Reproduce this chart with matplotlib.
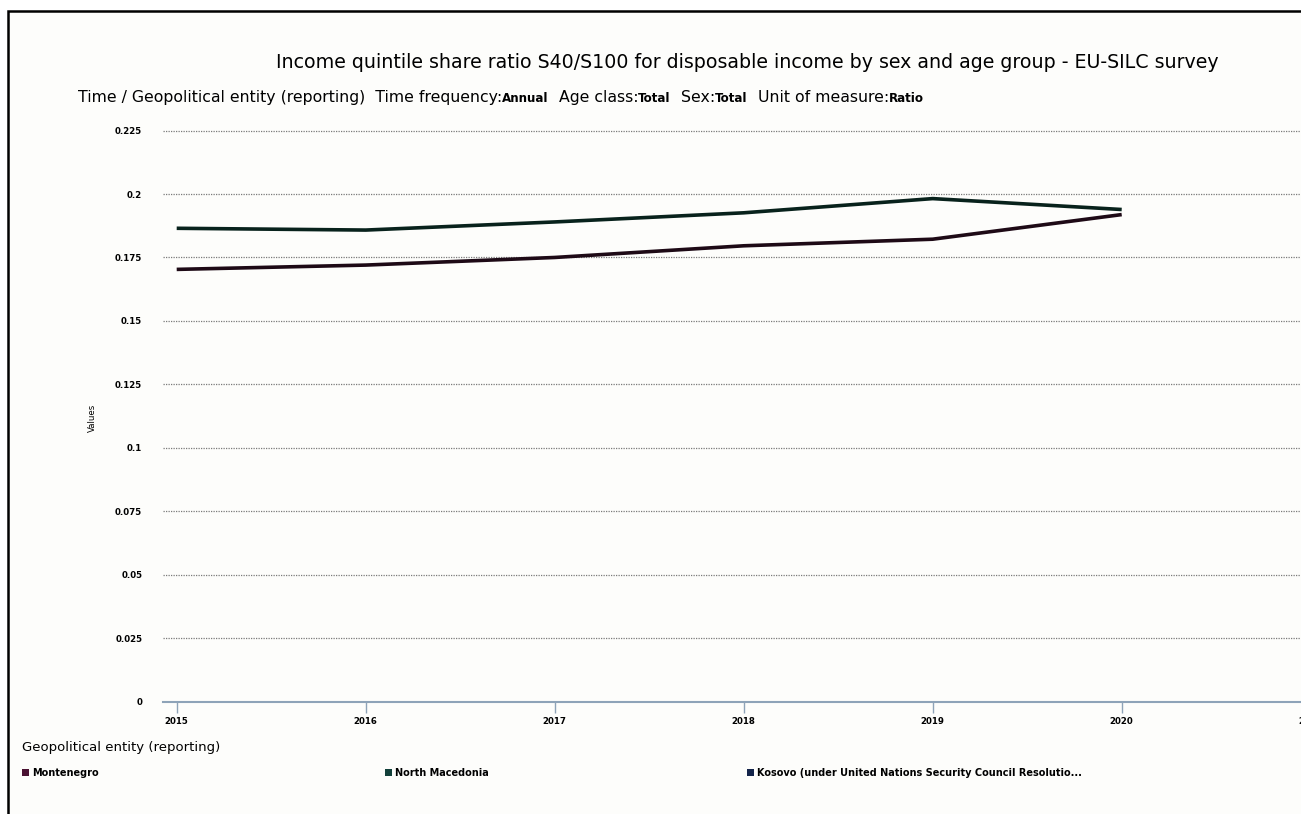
import matplotlib
matplotlib.use("Agg")
import matplotlib.pyplot as plt
from matplotlib.patches import Rectangle

plt.rcParams['font.family'] = ['DejaVu Sans']

years = [2015, 2016, 2017, 2018, 2019, 2020]
montenegro = [0.1703, 0.1720, 0.1750, 0.1796, 0.1822, 0.1919]
north_macedonia = [0.1865, 0.1858, 0.1890, 0.1926, 0.1982, 0.1939]
x_ticks = [2015, 2016, 2017, 2018, 2019, 2020, 2021]
y_ticks = [0, 0.025, 0.05, 0.075, 0.1, 0.125, 0.15, 0.175, 0.2, 0.225]
y_tick_labels = ['0', '0.025', '0.05', '0.075', '0.1', '0.125', '0.15', '0.175', '0.2', '0.225']
legend_names = ['Montenegro', 'North Macedonia',
                'Kosovo (under United Nations Security Council Resolutio...']
legend_colors = ['#4a1232', '#12403a', '#14244a']
line_colors = ['#1e0a16', '#08221c']

W, H = 1301, 814
fig = plt.figure(figsize=(W / 100, H / 100), dpi=100)
fig.patch.set_facecolor('white')

# outer frame
fig.add_artist(Rectangle((8 / W, -0.1), 1.2, (H - 11) / H + 0.1, transform=fig.transFigure,
                         facecolor='#fdfdfb', edgecolor='black', linewidth=1.8, zorder=-5))

left, right = 163, 1400
bottom, top = 701.5, 130.6
ax = fig.add_axes([left / W, 1 - bottom / H, (right - left) / W, (bottom - top) / H])
ax.set_facecolor('none')

ax.plot(years, montenegro, color=line_colors[0], lw=2.6, solid_capstyle='butt', zorder=3)
ax.plot(years, north_macedonia, color=line_colors[1], lw=2.6, solid_capstyle='butt', zorder=3)

x0 = 2015 - (176.7 - left) / 189.0
x1 = 2015 + (right - 176.7) / 189.0
ax.set_xlim(x0, x1)
ax.set_ylim(0, 0.225)

ax.set_yticks(y_ticks)
ax.set_yticklabels(y_tick_labels)
ax.set_xticks(x_ticks)
ax.set_xticklabels([str(y) for y in x_ticks])

for v in y_ticks[1:]:
    ax.axhline(v, color='#7a7a7a', lw=0.9, ls=(0, (1, 1)), zorder=1, clip_on=False)

for s in ['left', 'right', 'top']:
    ax.spines[s].set_visible(False)
ax.spines['bottom'].set_color('#8ea3b8')
ax.spines['bottom'].set_linewidth(1.5)

ax.tick_params(axis='y', length=0, pad=15, labelsize=6.2, colors='black')
ax.tick_params(axis='x', length=8, width=1, color='#8ea3b8', pad=3, labelsize=6.2)
for lab in ax.get_xticklabels() + ax.get_yticklabels():
    lab.set_fontweight('bold')

fig.text(92 / W, 1 - 418 / H, 'Values', rotation=90, fontsize=6.2, ha='center', va='center')

# title
fig.text(747 / W, 1 - 62 / H,
         'Income quintile share ratio S40/S100 for disposable income by sex and age group - EU-SILC survey',
         fontsize=13.7, ha='center', va='center')

# subtitle built from pieces
parts = [('Time / Geopolitical entity (reporting)  Time frequency:', 'normal', 11.3),
         ('Annual', 'bold', 8.6),
         ('  Age class:', 'normal', 11.3),
         ('Total', 'bold', 8.6),
         ('  Sex:', 'normal', 11.3),
         ('Total', 'bold', 8.6),
         ('  Unit of measure:', 'normal', 11.3),
         ('Ratio', 'bold', 8.6)]
renderer = fig.canvas.get_renderer()
xpos = 78
for txt, weight, size in parts:
    t = fig.text(xpos / W, 1 - 102 / H, txt, fontsize=size, fontweight=weight,
                 ha='left', va='baseline')
    xpos = t.get_window_extent(renderer).x1

# legend
fig.text(22 / W, 1 - 748 / H, 'Geopolitical entity (reporting)', fontsize=9.5,
         ha='left', va='center')
legend_x = [22, 385, 747]
for name, col, lx in zip(legend_names, legend_colors, legend_x):
    fig.add_artist(Rectangle((lx / W, 1 - 776 / H), 7 / W, 7 / H,
                             transform=fig.transFigure, facecolor=col, edgecolor='none'))
    fig.text((lx + 10) / W, 1 - 772.5 / H, name, fontsize=7, fontweight='bold',
             ha='left', va='center')

fig.savefig('out.png', dpi=100)
